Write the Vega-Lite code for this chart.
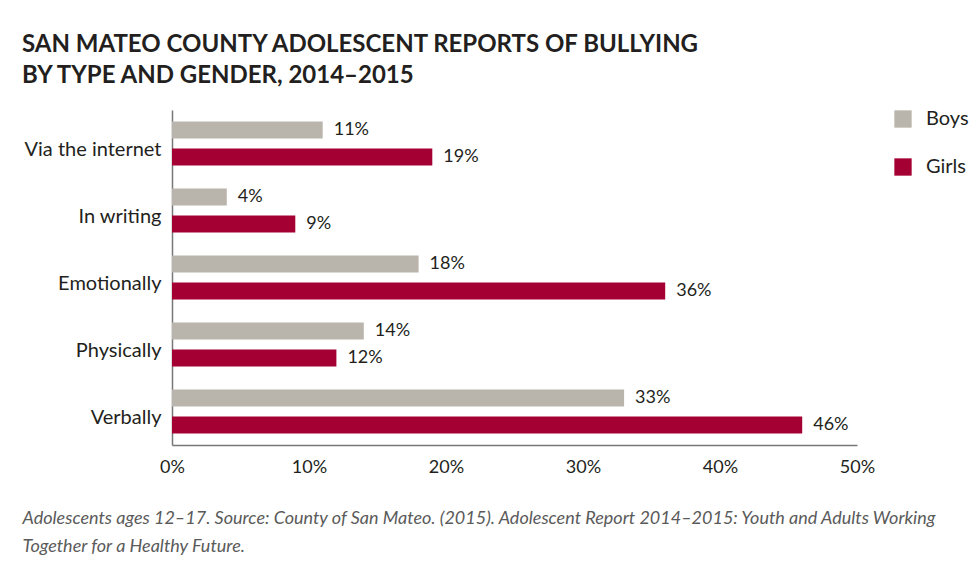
{
  "$schema": "https://vega.github.io/schema/vega-lite/v6.json",
  "width": 685,
  "height": 335,
  "autosize": {"type": "none"},
  "padding": {"left": 172, "top": 110, "right": 117, "bottom": 122},
  "background": "white",
  "config": {
    "view": {"stroke": null},
    "font": "Lato"
  },
  "title": {
    "text": ["SAN MATEO COUNTY ADOLESCENT REPORTS OF BULLYING", "BY TYPE AND GENDER, 2014\u20132015"],
    "anchor": "start",
    "frame": "group",
    "orient": "top",
    "dx": -150,
    "offset": -3,
    "fontSize": 24,
    "fontWeight": "bold",
    "font": "Lato",
    "color": "#231f20",
    "lineHeight": 31,
    "baseline": "bottom"
  },
  "data": {
    "values": [
      {"type": "Via the internet", "gender": "Boys", "pct": 11},
      {"type": "Via the internet", "gender": "Girls", "pct": 19},
      {"type": "In writing", "gender": "Boys", "pct": 4},
      {"type": "In writing", "gender": "Girls", "pct": 9},
      {"type": "Emotionally", "gender": "Boys", "pct": 18},
      {"type": "Emotionally", "gender": "Girls", "pct": 36},
      {"type": "Physically", "gender": "Boys", "pct": 14},
      {"type": "Physically", "gender": "Girls", "pct": 12},
      {"type": "Verbally", "gender": "Boys", "pct": 33},
      {"type": "Verbally", "gender": "Girls", "pct": 46}
    ]
  },
  "encoding": {
    "y": {
      "field": "type",
      "type": "nominal",
      "sort": ["Via the internet", "In writing", "Emotionally", "Physically", "Verbally"],
      "scale": {"paddingInner": 0, "paddingOuter": 0},
      "axis": {
        "title": null,
        "ticks": false,
        "labelFontSize": 20,
        "labelColor": "#231f20",
        "labelPadding": 11,
        "labelOffset": 6,
        "domainColor": "#777777",
        "domainWidth": 1.5
      }
    },
    "yOffset": {
      "field": "gender",
      "type": "nominal",
      "scale": {"paddingInner": 0.37, "paddingOuter": 0.425}
    },
    "x": {
      "field": "pct",
      "type": "quantitative",
      "scale": {"domain": [0, 50], "nice": false},
      "axis": {
        "values": [0, 10, 20, 30, 40, 50],
        "labelExpr": "datum.value + '%'",
        "ticks": false,
        "grid": false,
        "labelFontSize": 18,
        "labelColor": "#231f20",
        "labelPadding": 13,
        "labelFlush": false,
        "domainColor": "#777777",
        "domainWidth": 1.5,
        "title": ["Adolescents ages 12\u201317. Source: County of San Mateo. (2015). Adolescent Report 2014\u20132015: Youth and Adults Working", "Together for a Healthy Future."],
        "titleAnchor": "start",
        "titleAlign": "left",
        "titleBaseline": "alphabetic",
        "titleX": -150,
        "titleY": 78,
        "titleFontSize": 18,
        "titleFontStyle": "italic",
        "titleFontWeight": "normal",
        "titleColor": "#5a5a5a",
        "titleLineHeight": 28
      }
    }
  },
  "layer": [
    {
      "mark": {"type": "bar"},
      "encoding": {
        "color": {
          "field": "gender",
          "type": "nominal",
          "scale": {"domain": ["Boys", "Girls"], "range": ["#bab5ac", "#a50034"]},
          "legend": {
            "title": null,
            "orient": "none",
            "legendX": 721,
            "legendY": -1,
            "symbolType": "square",
            "symbolSize": 300,
            "symbolStrokeWidth": 0,
            "labelFontSize": 20,
            "labelColor": "#231f20",
            "labelOffset": 13,
            "rowPadding": 28
          }
        }
      }
    },
    {
      "mark": {"type": "text", "align": "left", "baseline": "middle", "dx": 11, "fontSize": 18, "color": "#231f20", "text": {"expr": "datum.pct + '%'"}},
      "encoding": {}
    }
  ]
}
